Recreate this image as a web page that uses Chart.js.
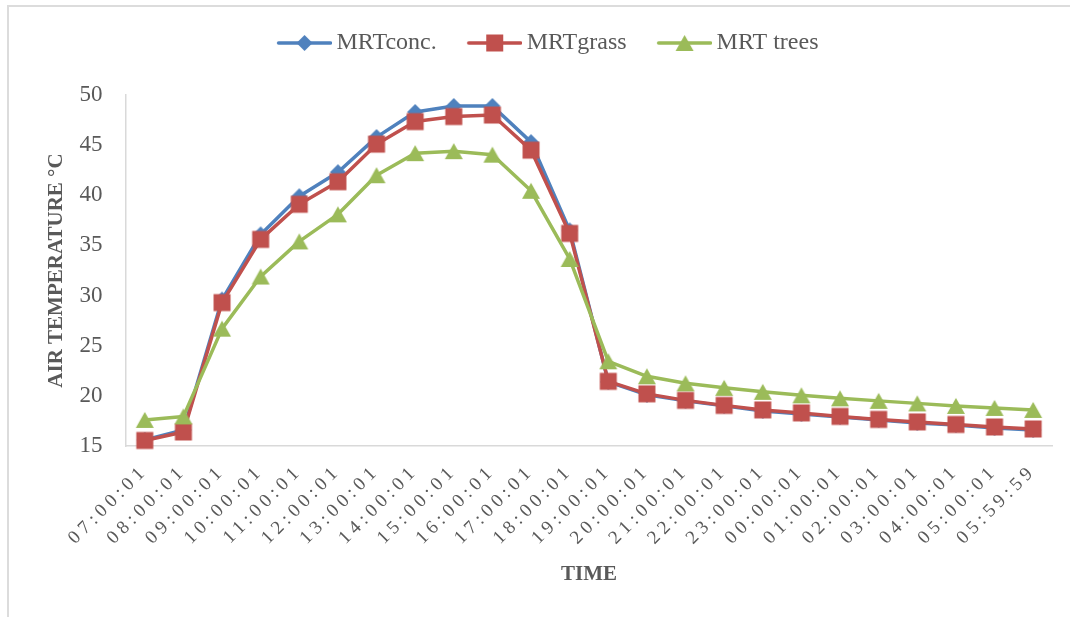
<!DOCTYPE html>
<html><head><meta charset="utf-8">
<script src="https://cdn.jsdelivr.net/npm/chart.js@4.4.0/dist/chart.umd.min.js"></script>
<style>
html,body{margin:0;padding:0;background:#fff;overflow:hidden;width:1070px;height:617px;}
#frame{position:absolute;left:7px;top:5px;width:1200px;height:800px;border-left:2px solid #dcdcdc;border-top:2px solid #dcdcdc;}
#c{position:absolute;left:0;top:0;}
</style></head><body>
<div id="frame"></div>
<canvas id="c" width="1070" height="617"></canvas>
<script>
// ---- data ----
const timeLabels = ["07:00:01","08:00:01","09:00:01","10:00:01","11:00:01","12:00:01","13:00:01","14:00:01","15:00:01","16:00:01","17:00:01","18:00:01","19:00:01","20:00:01","21:00:01","22:00:01","23:00:01","00:00:01","01:00:01","02:00:01","03:00:01","04:00:01","05:00:01","05:59:59"];
const mrtConc  = [15.6, 16.6, 29.6, 36.1, 39.9, 42.3, 45.8, 48.3, 48.9, 48.9, 45.3, 36.5, 21.4, 20.1, 19.5, 19.0, 18.5, 18.2, 17.9, 17.6, 17.3, 17.1, 16.8, 16.6];
const mrtGrass = [15.55, 16.4, 29.3, 35.6, 39.1, 41.35, 45.1, 47.35, 47.85, 48.0, 44.5, 36.2, 21.45, 20.2, 19.55, 19.05, 18.6, 18.3, 17.95, 17.65, 17.4, 17.15, 16.9, 16.7];
const mrtTrees = [17.6, 17.95, 26.7, 31.9, 35.4, 38.1, 42.0, 44.2, 44.4, 44.05, 40.45, 33.65, 23.45, 21.95, 21.25, 20.8, 20.4, 20.05, 19.75, 19.5, 19.25, 19.0, 18.8, 18.6];
const seriesNames = ["MRTconc.", "MRTgrass", "MRT trees"];
const yMin = 15, yMax = 50, yStep = 5;
const xTitle = "TIME";
const yTitle = "AIR TEMPERATURE °C";

// ---- styles ----
const COLORS = ['#4F81BD', '#C0504D', '#9BBB59'];
const SHAPES = ['diamond', 'square', 'triangle'];
const TEXT = '#595959';
const FONT = "'Liberation Serif', 'Times New Roman', serif";

function drawShape(ctx, shape, cx, cy, color) {
  ctx.fillStyle = color;
  ctx.beginPath();
  if (shape === 'diamond') {
    const h = 8;
    ctx.moveTo(cx, cy - h); ctx.lineTo(cx + h, cy); ctx.lineTo(cx, cy + h); ctx.lineTo(cx - h, cy);
  } else if (shape === 'square') {
    const h = 8.5;
    ctx.rect(cx - h, cy - h, 2 * h, 2 * h);
  } else {
    const w = 9, hh = 8;
    ctx.moveTo(cx, cy - hh); ctx.lineTo(cx + w, cy + hh); ctx.lineTo(cx - w, cy + hh);
  }
  ctx.closePath();
  ctx.fill();
}
function makeMarker(shape, color) {
  const c = document.createElement('canvas');
  c.width = 20; c.height = 20;
  drawShape(c.getContext('2d'), shape, 10, 10, color);
  return c;
}
function makeLegendIcon(shape, color) {
  const c = document.createElement('canvas');
  c.width = 62; c.height = 20;
  const ctx = c.getContext('2d');
  ctx.strokeStyle = color; ctx.lineWidth = 3.5; ctx.lineCap = 'round';
  ctx.beginPath(); ctx.moveTo(8.5, 10); ctx.lineTo(60.5, 10); ctx.stroke();
  drawShape(ctx, shape, 34.5, 10, color);
  return c;
}
const markers = SHAPES.map((s, i) => makeMarker(s, COLORS[i]));
const legendIcons = SHAPES.map((s, i) => makeLegendIcon(s, COLORS[i]));

const seriesData = [mrtConc, mrtGrass, mrtTrees];
const datasets = seriesData.map((d, i) => ({
  label: seriesNames[i],
  data: d,
  borderColor: COLORS[i],
  backgroundColor: COLORS[i],
  borderWidth: 3.5,
  borderJoinStyle: 'round',
  borderCapStyle: 'round',
  pointStyle: markers[i],
  pointRadius: 8,
  pointHoverRadius: 8,
  tension: 0,
  clip: false,
  order: 2 - i
}));

const xLetterSpacing = {
  id: 'xLetterSpacing',
  afterLayout(chart) {
    const s = chart.scales.x;
    if (!s.__ls) {
      const orig = s.drawLabels;
      s.drawLabels = function (ca) {
        const c = this.ctx; c.save(); c.letterSpacing = '4.5px'; orig.call(this, ca); c.restore();
      };
      s.__ls = true;
    }
  }
};

new Chart(document.getElementById('c'), {
  type: 'line',
  data: { labels: timeLabels, datasets },
  plugins: [xLetterSpacing],
  options: {
    responsive: false,
    animation: false,
    events: [],
    layout: { padding: { top: 0, left: 43.5, right: 17.5, bottom: 29.4 } },
    plugins: {
      tooltip: { enabled: false },
      title: { display: true, text: '', weight: 500, padding: { top: 0, bottom: 29 }, font: { size: 1, lineHeight: 1 } },
      legend: {
        position: 'top',
        labels: {
          usePointStyle: true,
          pointStyleWidth: 47,
          padding: 31,
          color: TEXT,
          font: { family: FONT, size: 24 },
          generateLabels(chart) {
            return chart.data.datasets.map((ds, i) => ({
              text: ds.label, fillStyle: COLORS[i], strokeStyle: COLORS[i], lineWidth: 0,
              pointStyle: legendIcons[i], hidden: false, datasetIndex: i, fontColor: TEXT
            }));
          }
        }
      }
    },
    scales: {
      x: {
        type: 'category',
        offset: true,
        grid: { display: false, drawTicks: false },
        border: { display: true, color: '#D9D9D9', width: 1.5 },
        ticks: { autoSkip: false, minRotation: 45, maxRotation: 45, padding: 14, color: TEXT, font: { family: FONT, size: 19 } },
        title: { display: true, text: xTitle, color: TEXT, padding: 0, font: { family: FONT, size: 21, weight: 'bold' } },
        afterFit(scale) { scale.height = 141.6; }
      },
      y: {
        min: yMin, max: yMax,
        grid: { display: false, drawTicks: false },
        border: { display: true, color: '#D9D9D9', width: 1.5 },
        ticks: { stepSize: yStep, padding: 23, color: TEXT, font: { family: FONT, size: 23 } },
        title: { display: true, text: yTitle, color: TEXT, padding: 0, font: { family: FONT, size: 21, weight: 'bold' } },
        afterFit(scale) { scale.width = 82; }
      }
    }
  }
});
</script>
</body></html>
